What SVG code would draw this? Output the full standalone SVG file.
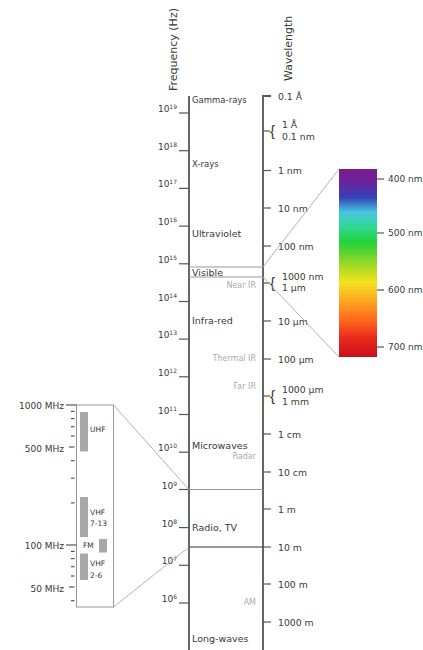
<svg xmlns="http://www.w3.org/2000/svg" width="423" height="650" viewBox="0 0 423 650">
<style>
text{font-family:"DejaVu Sans","Liberation Sans",sans-serif;fill:#383838}
.hd{font-size:11px}
.band{font-size:9.5px}
.bs{font-size:8.5px}
.gr{font-size:8px;fill:#aaa;text-anchor:end}
.fq{font-size:9px;text-anchor:end}
.sup{font-size:6px}
.wl{font-size:9.3px}
.sp{font-size:9px}
.ins{font-size:9px;text-anchor:end}
.sm{font-size:7.5px}
.brace{font-family:"Liberation Sans",sans-serif;font-size:15px}
.axis{stroke:#555;stroke-width:1.8;fill:none}
.tick{stroke:#555;stroke-width:1.2}
.thin{stroke:#999;stroke-width:1;fill:none}
.conn{stroke:#aaa;stroke-width:0.9;fill:none}
.bar{fill:#a8a8a8}
</style>
<defs>
<linearGradient id="spec" x1="0" y1="0" x2="0" y2="1">
<stop offset="0" stop-color="#7a1c8e"/>
<stop offset="0.07" stop-color="#6a249c"/>
<stop offset="0.15" stop-color="#3540b8"/>
<stop offset="0.23" stop-color="#48c6e2"/>
<stop offset="0.31" stop-color="#30d890"/>
<stop offset="0.39" stop-color="#22d23a"/>
<stop offset="0.49" stop-color="#8ad828"/>
<stop offset="0.6" stop-color="#f2e21e"/>
<stop offset="0.7" stop-color="#ffa820"/>
<stop offset="0.8" stop-color="#ff6a1c"/>
<stop offset="0.9" stop-color="#ea2a1c"/>
<stop offset="1" stop-color="#c8101c"/>
</linearGradient>
</defs>
<rect width="423" height="650" fill="#fff"/>

<g id="headers">
<text class="hd" transform="translate(177,91) rotate(-90)">Frequency (Hz)</text>
<text class="hd" transform="translate(292,81) rotate(-90)">Wavelength</text>
</g>

<g id="frequency-axis">
<line class="axis" x1="189" y1="96" x2="189" y2="650"/>
<g class="tick">
<line x1="179" y1="113" x2="189" y2="113"/>
<line x1="179" y1="150.7" x2="189" y2="150.7"/>
<line x1="179" y1="188.4" x2="189" y2="188.4"/>
<line x1="179" y1="226.1" x2="189" y2="226.1"/>
<line x1="179" y1="263.8" x2="189" y2="263.8"/>
<line x1="179" y1="301.5" x2="189" y2="301.5"/>
<line x1="179" y1="339.1" x2="189" y2="339.1"/>
<line x1="179" y1="376.8" x2="189" y2="376.8"/>
<line x1="179" y1="414.5" x2="189" y2="414.5"/>
<line x1="179" y1="452.2" x2="189" y2="452.2"/>
<line x1="179" y1="489.5" x2="189" y2="489.5"/>
<line x1="179" y1="527.6" x2="189" y2="527.6"/>
<line x1="179" y1="565.3" x2="189" y2="565.3"/>
<line x1="179" y1="603" x2="189" y2="603"/>
</g>
<text class="fq" x="177" y="112">10<tspan class="sup" dy="-3">19</tspan></text>
<text class="fq" x="177" y="149.7">10<tspan class="sup" dy="-3">18</tspan></text>
<text class="fq" x="177" y="187.4">10<tspan class="sup" dy="-3">17</tspan></text>
<text class="fq" x="177" y="225.1">10<tspan class="sup" dy="-3">16</tspan></text>
<text class="fq" x="177" y="262.8">10<tspan class="sup" dy="-3">15</tspan></text>
<text class="fq" x="177" y="300.5">10<tspan class="sup" dy="-3">14</tspan></text>
<text class="fq" x="177" y="338.1">10<tspan class="sup" dy="-3">13</tspan></text>
<text class="fq" x="177" y="375.8">10<tspan class="sup" dy="-3">12</tspan></text>
<text class="fq" x="177" y="413.5">10<tspan class="sup" dy="-3">11</tspan></text>
<text class="fq" x="177" y="451.2">10<tspan class="sup" dy="-3">10</tspan></text>
<text class="fq" x="177" y="488.5">10<tspan class="sup" dy="-3">9</tspan></text>
<text class="fq" x="177" y="526.6">10<tspan class="sup" dy="-3">8</tspan></text>
<text class="fq" x="177" y="564.3">10<tspan class="sup" dy="-3">7</tspan></text>
<text class="fq" x="177" y="602">10<tspan class="sup" dy="-3">6</tspan></text>
</g>

<g id="wavelength-axis">
<path class="axis" d="M271,96 H263 V650"/>
<g class="tick">
<line x1="263" y1="131" x2="270" y2="131"/>
<line x1="263" y1="170.5" x2="271" y2="170.5"/>
<line x1="263" y1="208" x2="271" y2="208"/>
<line x1="263" y1="246" x2="271" y2="246"/>
<line x1="263" y1="283" x2="270" y2="283"/>
<line x1="263" y1="321" x2="271" y2="321"/>
<line x1="263" y1="359" x2="271" y2="359"/>
<line x1="263" y1="396" x2="270" y2="396"/>
<line x1="263" y1="434" x2="271" y2="434"/>
<line x1="263" y1="472" x2="271" y2="472"/>
<line x1="263" y1="509" x2="271" y2="509"/>
<line x1="263" y1="547" x2="271" y2="547"/>
<line x1="263" y1="584" x2="271" y2="584"/>
<line x1="263" y1="622" x2="271" y2="622"/>
</g>
<text class="wl" x="278" y="99.5">0.1 Å</text>
<text class="brace" x="270" y="135.5">{</text>
<text class="wl" x="282" y="128">1 Å</text>
<text class="wl" x="282" y="140">0.1 nm</text>
<text class="wl" x="278" y="174">1 nm</text>
<text class="wl" x="278" y="211.5">10 nm</text>
<text class="wl" x="278" y="249.5">100 nm</text>
<text class="brace" x="270" y="287.5">{</text>
<text class="wl" x="282" y="279.5">1000 nm</text>
<text class="wl" x="282" y="291">1 µm</text>
<text class="wl" x="278" y="324.5">10 µm</text>
<text class="wl" x="278" y="362.5">100 µm</text>
<text class="brace" x="270" y="400.5">{</text>
<text class="wl" x="282" y="393">1000 µm</text>
<text class="wl" x="282" y="405">1 mm</text>
<text class="wl" x="278" y="437.5">1 cm</text>
<text class="wl" x="278" y="475.5">10 cm</text>
<text class="wl" x="278" y="512.5">1 m</text>
<text class="wl" x="278" y="550.5">10 m</text>
<text class="wl" x="278" y="587.5">100 m</text>
<text class="wl" x="278" y="625.5">1000 m</text>
</g>

<g id="bands">
<line class="thin" x1="189" y1="267" x2="263" y2="267"/>
<line class="thin" x1="189" y1="277" x2="263" y2="277"/>
<line class="thin" x1="189" y1="489.5" x2="263" y2="489.5"/>
<line x1="189" y1="547" x2="263" y2="547" stroke="#333" stroke-width="1.1"/>
<text class="bs" x="192" y="103">Gamma-rays</text>
<text class="bs" x="192" y="166.5">X-rays</text>
<text class="band" x="192" y="236.5">Ultraviolet</text>
<text class="band" x="192" y="276">Visible</text>
<text class="gr" x="256" y="288">Near IR</text>
<text class="band" x="192" y="323.5">Infra-red</text>
<text class="gr" x="256" y="361">Thermal IR</text>
<text class="gr" x="256" y="389">Far IR</text>
<text class="band" x="192" y="448.5">Microwaves</text>
<text class="gr" x="256" y="459">Radar</text>
<text class="band" x="192" y="530.5">Radio, TV</text>
<text class="gr" x="256" y="605">AM</text>
<text class="band" x="192" y="641.5">Long-waves</text>
</g>

<g id="visible-spectrum">
<rect x="339" y="169" width="38" height="188" fill="url(#spec)"/>
<g class="tick">
<line x1="377" y1="179" x2="384" y2="179"/>
<line x1="377" y1="233" x2="384" y2="233"/>
<line x1="377" y1="290" x2="384" y2="290"/>
<line x1="377" y1="347" x2="384" y2="347"/>
</g>
<text class="sp" x="388" y="182">400 nm</text>
<text class="sp" x="388" y="236">500 nm</text>
<text class="sp" x="388" y="293">600 nm</text>
<text class="sp" x="388" y="350">700 nm</text>
</g>

<g id="radio-inset">
<rect class="thin" x="76.5" y="405" width="37" height="202"/>
<g class="tick">
<line x1="66" y1="405" x2="76.5" y2="405"/>
<line x1="66" y1="545" x2="76.5" y2="545"/>
<line x1="69" y1="447" x2="74.5" y2="447"/>
<line x1="69" y1="587" x2="74.5" y2="587"/>
<line x1="71" y1="411.4" x2="74.5" y2="411.4"/>
<line x1="71" y1="418.6" x2="74.5" y2="418.6"/>
<line x1="71" y1="426.7" x2="74.5" y2="426.7"/>
<line x1="71" y1="436" x2="74.5" y2="436"/>
<line x1="71" y1="460.7" x2="74.5" y2="460.7"/>
<line x1="71" y1="478.2" x2="74.5" y2="478.2"/>
<line x1="71" y1="502.9" x2="74.5" y2="502.9"/>
<line x1="71" y1="551.4" x2="74.5" y2="551.4"/>
<line x1="71" y1="558.6" x2="74.5" y2="558.6"/>
<line x1="71" y1="566.7" x2="74.5" y2="566.7"/>
<line x1="71" y1="576" x2="74.5" y2="576"/>
<line x1="71" y1="600.7" x2="74.5" y2="600.7"/>
</g>
<text class="ins" x="64" y="408.5">1000 MHz</text>
<text class="ins" x="64" y="452">500 MHz</text>
<text class="ins" x="64" y="548.5">100 MHz</text>
<text class="ins" x="64" y="592">50 MHz</text>
<rect class="bar" x="80" y="412" width="8" height="39.5"/>
<rect class="bar" x="80" y="497" width="8" height="40"/>
<rect class="bar" x="99" y="539" width="8" height="13.5"/>
<rect class="bar" x="80" y="553.5" width="8" height="26.5"/>
<text class="sm" x="90" y="432">UHF</text>
<text class="sm" x="90" y="514.5">VHF</text>
<text class="sm" x="90" y="526">7-13</text>
<text class="sm" x="83" y="548">FM</text>
<text class="sm" x="90" y="566">VHF</text>
<text class="sm" x="90" y="577.5">2-6</text>
</g>

<g id="connectors">
<line class="conn" x1="263" y1="267" x2="339" y2="169"/>
<line class="conn" x1="263" y1="277" x2="339" y2="357"/>
<line class="conn" x1="113.5" y1="405" x2="189" y2="489.5"/>
<line class="conn" x1="113.5" y1="607" x2="189" y2="547"/>
</g>
</svg>
